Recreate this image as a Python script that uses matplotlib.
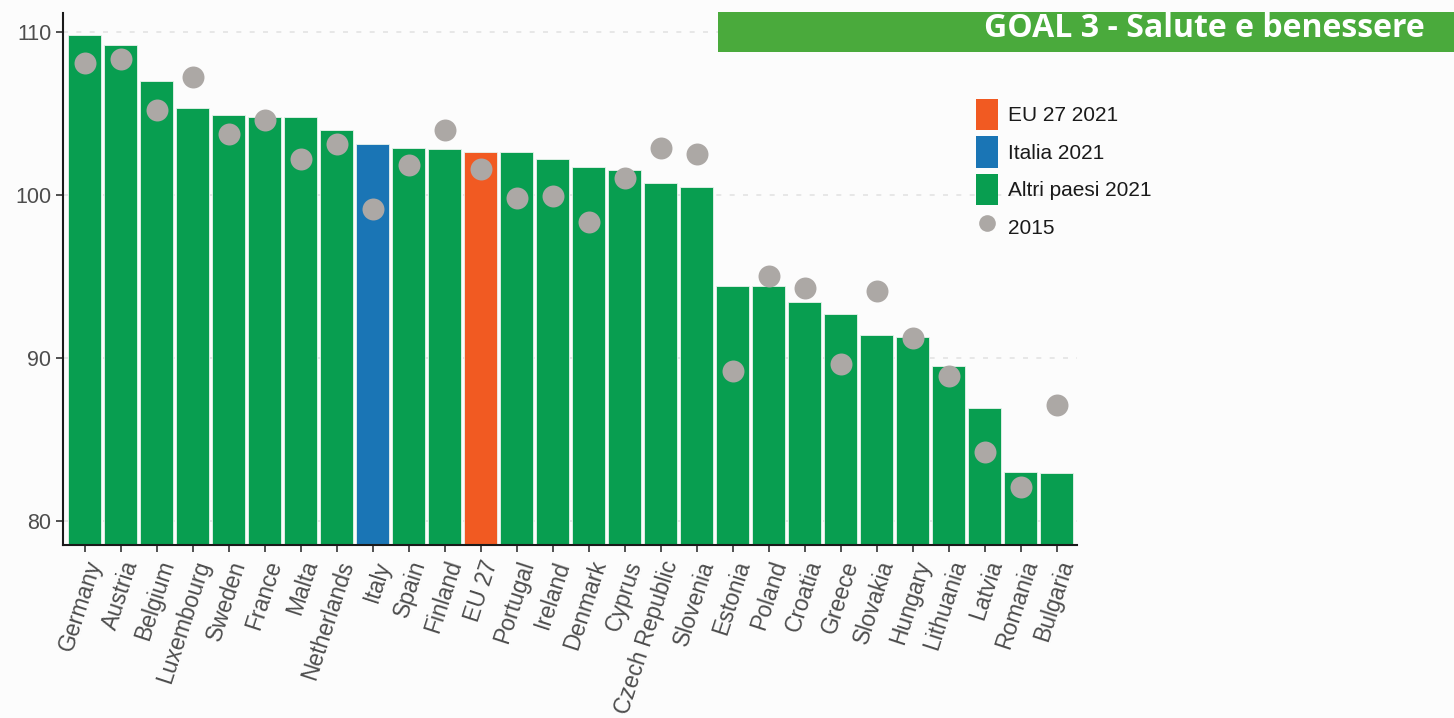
import matplotlib
matplotlib.use("Agg")
import matplotlib.pyplot as plt
from matplotlib.patches import Patch
from matplotlib.lines import Line2D

countries = ["Germany", "Austria", "Belgium", "Luxembourg", "Sweden", "France", "Malta",
             "Netherlands", "Italy", "Spain", "Finland", "EU 27", "Portugal", "Ireland",
             "Denmark", "Cyprus", "Czech Republic", "Slovenia", "Estonia", "Poland",
             "Croatia", "Greece", "Slovakia", "Hungary", "Lithuania", "Latvia",
             "Romania", "Bulgaria"]
values_2021 = [109.8, 109.2, 107.0, 105.3, 104.9, 104.8, 104.8, 104.0, 103.1, 102.9,
               102.8, 102.6, 102.6, 102.2, 101.7, 101.5, 100.7, 100.5, 94.4, 94.4,
               93.4, 92.7, 91.4, 91.3, 89.5, 86.9, 83.0, 82.9]
values_2015 = [108.1, 108.3, 105.2, 107.2, 103.7, 104.6, 102.2, 103.1, 99.1, 101.8,
               104.0, 101.6, 99.8, 99.9, 98.3, 101.0, 102.9, 102.5, 89.2, 95.0,
               94.3, 89.6, 94.1, 91.2, 88.9, 84.2, 82.1, 87.1]
yticks = [80, 90, 100, 110]

GREEN = "#089e50"
BLUE = "#1a75b5"
ORANGE = "#f15a22"
GREY = "#aca8a5"

def bar_color(c):
    if c == "Italy":
        return BLUE
    if c == "EU 27":
        return ORANGE
    return GREEN

fig = plt.figure(figsize=(14.54, 7.18), dpi=100)
fig.patch.set_facecolor("#fcfcfc")
ax = fig.add_axes([0.0433, 0.2409, 0.6972, 0.7414])
ax.set_facecolor("#fcfcfc")

x = list(range(len(countries)))
ax.bar(x, [v - 70 for v in values_2021], bottom=70, width=0.9,
       color=[bar_color(c) for c in countries], edgecolor="#e8f3ec", linewidth=0.6, zorder=2)
ax.scatter(x, values_2015, s=250, color=GREY, zorder=3, linewidths=0)

ax.set_ylim(78.51, 111.17)
ax.set_xlim(-0.6, 27.56)
ax.set_yticks(yticks)
ax.set_yticklabels([str(t) for t in yticks], fontsize=15.5, color="#4d4d4d",
                   family="Liberation Sans")
ax.set_xticks(x)
ax.set_xticklabels(countries, rotation=72, ha="right", va="top", rotation_mode="anchor",
                   fontsize=16.5, color="#4d4d4d", family="Liberation Sans")
ax.tick_params(axis="both", length=5, width=1.2, color="#333333")
ax.tick_params(axis="x", pad=4)
ax.yaxis.grid(True, color="#e3e3e3", linestyle=(0, (3, 5)), linewidth=1.2, zorder=0)
ax.set_axisbelow(True)
for s in ["top", "right"]:
    ax.spines[s].set_visible(False)
for s in ["left", "bottom"]:
    ax.spines[s].set_linewidth(1.5)
    ax.spines[s].set_color("#1a1a1a")

# Title banner
fig.patches.append(plt.Rectangle((718 / 1454, 1 - 52 / 718), 1 - 718 / 1454, 40 / 718,
                                 transform=fig.transFigure, facecolor="#4aaa3c",
                                 edgecolor="none", zorder=0))
fig.text(1425 / 1454, 1 - 37 / 718, "GOAL 3 - Salute e benessere", color="white",
         fontsize=23, fontweight="bold", family="Open Sans", ha="right", va="baseline")

handles = [Patch(facecolor=ORANGE, edgecolor="none", label="EU 27 2021"),
           Patch(facecolor=BLUE, edgecolor="none", label="Italia 2021"),
           Patch(facecolor=GREEN, edgecolor="none", label="Altri paesi 2021"),
           Line2D([0], [0], marker="o", color="none", markerfacecolor=GREY,
                  markeredgecolor="none", markersize=12, label="2015")]
leg = fig.legend(handles=handles, loc="upper left", bbox_to_anchor=(957 / 1454, 1 - 80 / 718),
                 frameon=False, prop={"family": "Liberation Sans", "size": 15},
                 handlelength=1.05, handleheight=1.95, handletextpad=0.5, labelspacing=0.29)
for t in leg.get_texts():
    t.set_color("#1a1a1a")

fig.savefig("out.png", dpi=100, facecolor=fig.get_facecolor())
